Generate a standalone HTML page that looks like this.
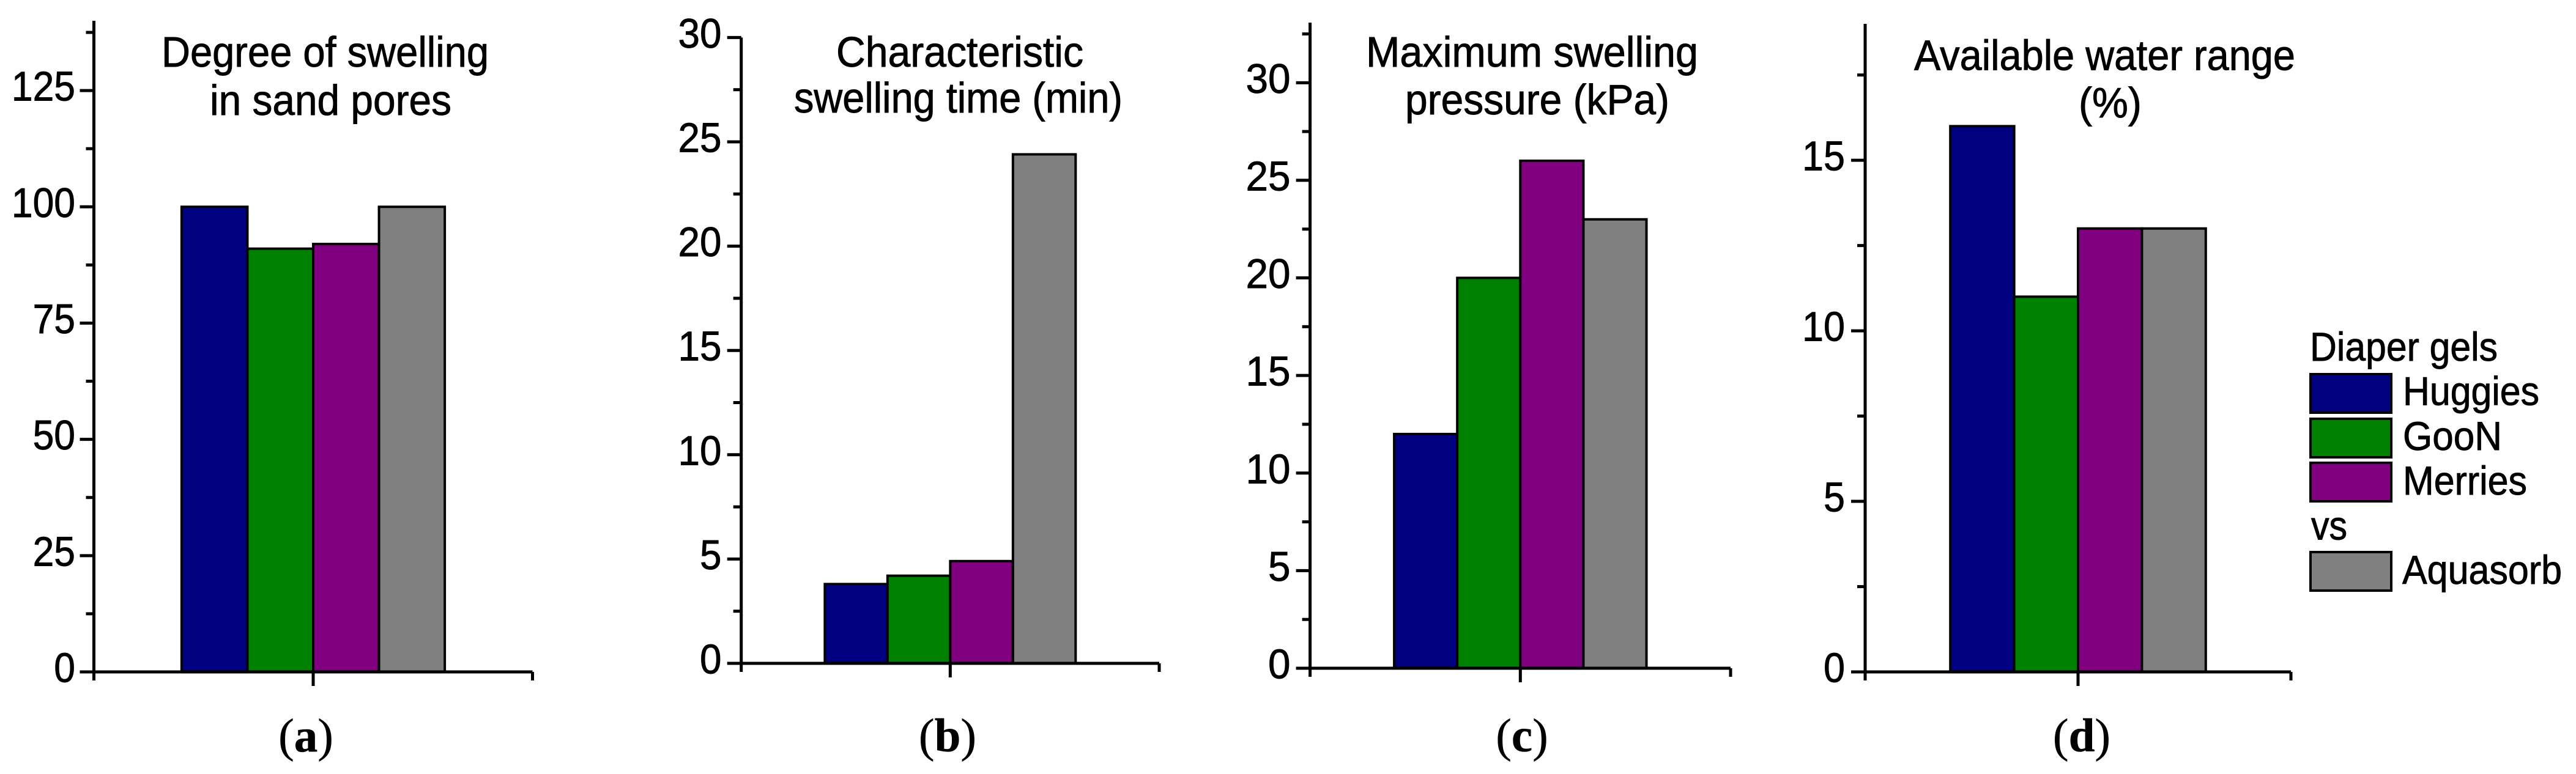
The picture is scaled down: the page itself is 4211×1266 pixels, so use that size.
<!DOCTYPE html>
<html lang="en">
<head>
<meta charset="utf-8">
<title>Diaper gels vs Aquasorb</title>
<style>
html,body{margin:0;padding:0;background:#fff;width:4211px;height:1266px;overflow:hidden}
svg{display:block}
text{font-family:"Liberation Sans",Arial,sans-serif;fill:#000;stroke:#000;stroke-width:0.9px}
.panel-label{font-family:"Liberation Serif","Times New Roman",serif;font-size:77px;stroke-width:0.5px}
.title{font-size:70px}
.legend{font-size:66px}
</style>
</head>
<body>
<svg id="chart" xmlns="http://www.w3.org/2000/svg" width="4211" height="1266" viewBox="0 0 4211 1266">
  <rect x="0" y="0" width="4211" height="1266" fill="#ffffff"/>
  <g id="panels"></g>

  <g>
    <text class="title" x="264" y="109" textLength="535" lengthAdjust="spacingAndGlyphs">Degree of swelling</text>
    <text class="title" x="343" y="188" textLength="395" lengthAdjust="spacingAndGlyphs">in sand pores</text>
  </g>
  <g>
    <text class="title" x="1367" y="109" textLength="404" lengthAdjust="spacingAndGlyphs">Characteristic</text>
    <text class="title" x="1298" y="184" textLength="537" lengthAdjust="spacingAndGlyphs">swelling time (min)</text>
  </g>
  <g>
    <text class="title" x="2233" y="109" textLength="543" lengthAdjust="spacingAndGlyphs">Maximum swelling</text>
    <text class="title" x="2297" y="187" textLength="432" lengthAdjust="spacingAndGlyphs">pressure (kPa)</text>
  </g>
  <g>
    <text class="title" x="3129" y="114.5" textLength="623" lengthAdjust="spacingAndGlyphs">Available water range</text>
    <text class="title" x="3398" y="192" textLength="103" lengthAdjust="spacingAndGlyphs">(%)</text>
  </g>

  <text class="panel-label" x="500" y="1229" text-anchor="middle">(<tspan font-weight="700">a</tspan>)</text>
  <text class="panel-label" x="1549" y="1229" text-anchor="middle">(<tspan font-weight="700">b</tspan>)</text>
  <text class="panel-label" x="2488" y="1229" text-anchor="middle">(<tspan font-weight="700">c</tspan>)</text>
  <text class="panel-label" x="3403" y="1229" text-anchor="middle">(<tspan font-weight="700">d</tspan>)</text>

  <g>
    <text class="legend" x="3776" y="590" textLength="307" lengthAdjust="spacingAndGlyphs">Diaper gels</text>
    <rect x="3777" y="612" width="132" height="63" fill="#000080" stroke="#000" stroke-width="4"/>
    <text class="legend" x="3928" y="662.5" textLength="223" lengthAdjust="spacingAndGlyphs">Huggies</text>
    <rect x="3777" y="685" width="132" height="63" fill="#008000" stroke="#000" stroke-width="4"/>
    <text class="legend" x="3928" y="736" textLength="162" lengthAdjust="spacingAndGlyphs">GooN</text>
    <rect x="3777" y="757" width="132" height="63" fill="#800080" stroke="#000" stroke-width="4"/>
    <text class="legend" x="3928" y="809" textLength="203" lengthAdjust="spacingAndGlyphs">Merries</text>
    <text class="legend" x="3778" y="882.5" textLength="59" lengthAdjust="spacingAndGlyphs">vs</text>
    <rect x="3777" y="903" width="132" height="63" fill="#808080" stroke="#000" stroke-width="4"/>
    <text class="legend" x="3927" y="955" textLength="261" lengthAdjust="spacingAndGlyphs">Aquasorb</text>
  </g>
</svg>

<script>
// Chart data
const seriesNames = ['Huggies', 'GooN', 'Merries', 'Aquasorb'];
const seriesColors = ['#000080', '#008000', '#800080', '#808080'];

const swellingDegree = [100, 91, 92, 100];
const swellingTime = [3.8, 4.2, 4.9, 24.4];
const swellingPressure = [12, 20, 26, 23];
const waterRange = [16, 11, 13, 13];

const degreeTicks = [0, 25, 50, 75, 100, 125];
const degreeMinorTicks = [12.5, 37.5, 62.5, 87.5, 112.5, 137.5];
const timeTicks = [0, 5, 10, 15, 20, 25, 30];
const timeMinorTicks = [2.5, 7.5, 12.5, 17.5, 22.5, 27.5];
const pressureTicks = [0, 5, 10, 15, 20, 25, 30];
const pressureMinorTicks = [2.5, 7.5, 12.5, 17.5, 22.5, 27.5, 32.5];
const waterTicks = [0, 5, 10, 15];
const waterMinorTicks = [2.5, 7.5, 12.5, 17.5];

const SVG_NS = 'http://www.w3.org/2000/svg';
const root = document.getElementById('panels');

function make(tag, parent, attrs) {
  const node = document.createElementNS(SVG_NS, tag);
  for (const key in attrs) node.setAttribute(key, attrs[key]);
  parent.appendChild(node);
  return node;
}

function drawPanel(cfg) {
  const g = make('g', root, {});
  
  

  // Axis functions
  const yScale = function (v) {
    return cfg.base - (v / cfg.domainMax) * (cfg.base - cfg.top);
  };
  const center = (cfg.left + cfg.right) / 2;
  const bandWidth = (cfg.right - cfg.left) * 0.6 / cfg.values.length;
  const xScale = function (i) {
    return center - bandWidth * cfg.values.length / 2 + i * bandWidth;
  };

  // Bars
  cfg.values.forEach(function (v, i) {
    const bar = make('rect', g, {
      x: xScale(i),
      y: yScale(v),
      width: bandWidth,
      height: cfg.base - yScale(v),
      fill: seriesColors[i],
      stroke: '#000',
      'stroke-width': 4
    });
    
    
  });

  const axisStroke = { stroke: '#000', 'stroke-width': 5, fill: 'none' };

  // Y axis line
  const yAxis = make('line', g, Object.assign({ x1: cfg.left, x2: cfg.left, y1: cfg.top, y2: cfg.base + 2 }, axisStroke));
  
  

  // X axis line
  const xAxis = make('line', g, Object.assign({ x1: cfg.left, x2: cfg.right, y1: cfg.base, y2: cfg.base }, axisStroke));
  
  

  // Y ticks and labels
  cfg.ticks.forEach(function (t) {
    const tick = make('line', g, Object.assign({ x1: cfg.left - 23, x2: cfg.left, y1: yScale(t), y2: yScale(t) }, axisStroke));
    
    
    const label = String(t);
    const txt = make('text', g, {
      x: cfg.labelRight,
      y: yScale(t) + 16.5,
      'text-anchor': 'end',
      'font-size': 68,
      textLength: label.length * cfg.digitWidth,
      lengthAdjust: 'spacingAndGlyphs'
    });
    txt.textContent = label;
    
    
  });

  cfg.minorTicks.forEach(function (t) {
    const tick = make('line', g, Object.assign({ x1: cfg.left - 13, x2: cfg.left, y1: yScale(t), y2: yScale(t) }, axisStroke));
    
    
  });

  // X ticks
  [cfg.left, cfg.right].forEach(function (x, i) {
    const tick = make('line', g, Object.assign({ x1: x, x2: x, y1: cfg.base, y2: cfg.base + 14 }, axisStroke));
    
    
  });
  const midTick = make('line', g, Object.assign({ x1: center, x2: center, y1: cfg.base, y2: cfg.base + 23 }, axisStroke));
  
  
}

drawPanel({ id: 'a', values: swellingDegree, ticks: degreeTicks, minorTicks: degreeMinorTicks, domainMax: 140, left: 153.5, right: 870.5, base: 1099, top: 34, labelRight: 123, digitWidth: 34.7 });
drawPanel({ id: 'b', values: swellingTime, ticks: timeTicks, minorTicks: timeMinorTicks, domainMax: 30, left: 1211.7, right: 1895, base: 1085, top: 61.4, labelRight: 1179.5, digitWidth: 35.5 });
drawPanel({ id: 'c', values: swellingPressure, ticks: pressureTicks, minorTicks: pressureMinorTicks, domainMax: 33.08, left: 2141.6, right: 2829, base: 1093, top: 37, labelRight: 2109.5, digitWidth: 36.5 });
drawPanel({ id: 'd', values: waterRange, ticks: waterTicks, minorTicks: waterMinorTicks, domainMax: 19, left: 3049, right: 3745, base: 1099, top: 39, labelRight: 3016, digitWidth: 35 });
</script>
</body>
</html>
